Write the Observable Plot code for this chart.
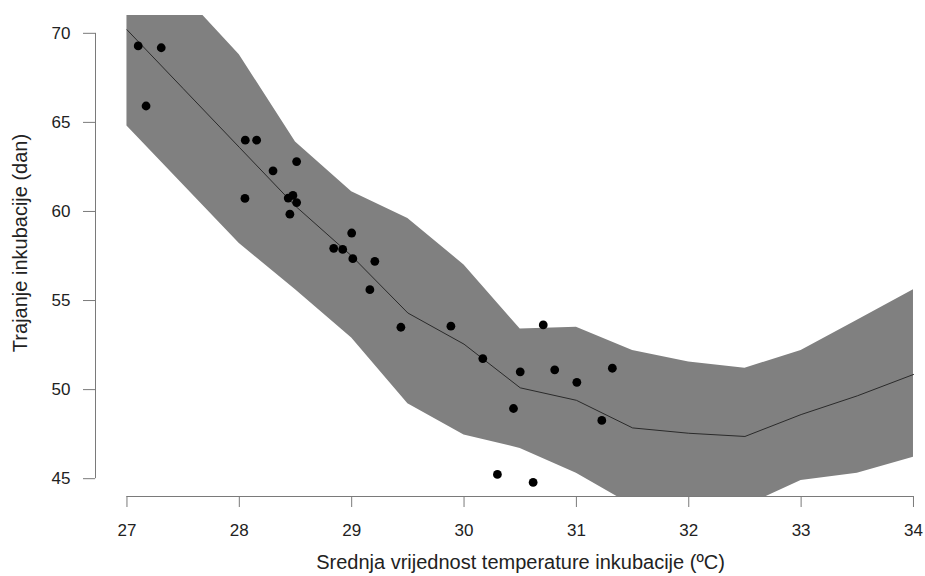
<!DOCTYPE html>
<html><head><meta charset="utf-8">
<script src="https://cdn.jsdelivr.net/npm/d3@7"></script>
<script src="https://cdn.jsdelivr.net/npm/@observablehq/plot@0.6"></script>
<style>body{margin:0;background:#fff;} svg{display:block}</style>
</head><body><div id="chart"></div>
<script>
// Observed incubation: mean temperature (°C) and duration (days)
const obsTemp = [27.10, 27.305, 27.17, 28.053, 28.154, 28.51, 28.30, 28.05, 28.435, 28.477, 28.51, 28.45,
                 29.00, 28.84, 28.92, 29.01, 29.206, 29.162, 29.438, 29.883, 30.705, 30.167, 30.50, 30.807,
                 31.32, 31.004, 30.44, 31.226, 30.297, 30.615];
const obsDays = [69.29, 69.19, 65.92, 64.0, 64.0, 62.8, 62.28, 60.73, 60.75, 60.9, 60.5, 59.85,
                 58.79, 57.93, 57.87, 57.35, 57.2, 55.61, 53.5, 53.56, 53.63, 51.74, 51.0, 51.11,
                 51.2, 50.41, 48.94, 48.27, 45.24, 44.79];
// Fitted curve with confidence band
const fitTemp  = [27, 27.5, 28, 28.5, 29, 29.5, 30, 30.5, 31, 31.5, 32, 32.5, 33, 33.5, 34];
const fitDays  = [70.2, 66.9, 63.6, 60.3, 57.5, 54.3, 52.55, 50.1, 49.4, 47.85, 47.55, 47.37, 48.6, 49.65, 50.85];
const fitLower = [64.8, 61.5, 58.2, 55.6, 52.9, 49.2, 47.45, 46.7, 45.3, 43.5, 43.2, 43.45, 44.9, 45.3, 46.2];
const fitUpper = [75.6, 72.2, 68.8, 63.9, 61.1, 59.6, 57.0, 53.4, 53.5, 52.2, 51.55, 51.2, 52.2, 53.9, 55.6];
const xTicks = [27, 28, 29, 30, 31, 32, 33, 34];
const yTicks = [45, 50, 55, 60, 65, 70];
const xLabel = "Srednja vrijednost temperature inkubacije (ºC)";
const yLabel = "Trajanje inkubacije (dan)";

const xDomain = [26.72, 34.107];
const yDomain = [44, 71];

const obs = obsTemp.map((t, i) => ({t, d: obsDays[i]}));
const fit = fitTemp.map((t, i) => ({t, d: fitDays[i], lo: fitLower[i], hi: fitUpper[i]}));

const axisColor = "#7a7a7a";
const textColor = "#222";

const chart = Plot.plot({
  width: 925, height: 576,
  marginLeft: 95, marginRight: 0, marginTop: 15, marginBottom: 80,
  style: {fontFamily: "'Liberation Sans', Arial, sans-serif", fontSize: "17px", color: textColor, background: "#fff"},
  x: {domain: xDomain},
  y: {domain: yDomain},
  marks: [
    Plot.areaY(fit, {x: "t", y1: "lo", y2: "hi", fill: "#808080", clip: true}),
    Plot.line(fit, {x: "t", y: "d", stroke: "#2a2a2a", strokeWidth: 1, clip: true}),
    Plot.dot(obs, {x: "t", y: "d", r: 4.4, fill: "#000", stroke: "none"}),
    Plot.ruleX([xDomain[0]], {y1: d3.min(yTicks), y2: d3.max(yTicks), stroke: axisColor}),
    Plot.ruleY([yDomain[0]], {x1: d3.min(xTicks), x2: d3.max(xTicks), stroke: axisColor}),
    Plot.axisY(yTicks, {anchor: "left", tickSize: 12, tickPadding: 13, stroke: axisColor, fill: textColor, fontSize: 17, label: null}),
    Plot.axisX(xTicks, {anchor: "bottom", tickSize: 11, tickPadding: 16, stroke: axisColor, fill: textColor, fontSize: 17, label: null}),
    Plot.text([yLabel], {frameAnchor: "left", rotate: -90, dx: -75, dy: -13, textAnchor: "middle", lineAnchor: "middle", fontSize: 20, fill: textColor}),
    Plot.text([xLabel], {frameAnchor: "bottom", dx: 10, dy: 66, textAnchor: "middle", lineAnchor: "middle", fontSize: 20, fill: textColor})
  ]
});
document.getElementById("chart").appendChild(chart);
</script>
</body></html>
